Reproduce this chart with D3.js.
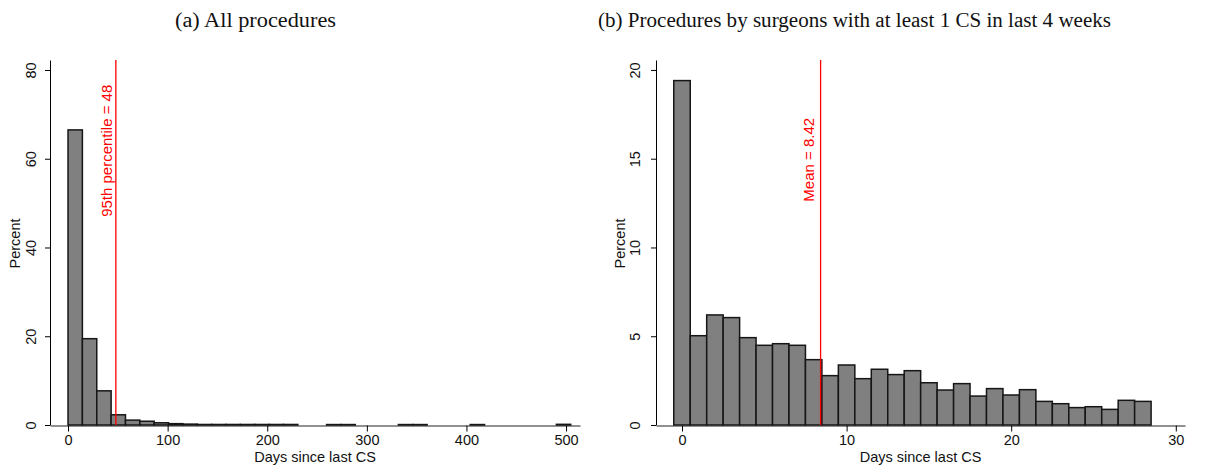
<!DOCTYPE html>
<html>
<head>
<meta charset="utf-8">
<script src="https://cdn.jsdelivr.net/npm/d3@7"></script>
<style>
  body { margin: 0; background: #fff; }
  svg { display: block; }
  .tick text { font-family: "Liberation Sans", Arial, sans-serif; font-size: 14.5px; fill: #111; }
  .axis-label { font-family: "Liberation Sans", Arial, sans-serif; font-size: 14.5px; fill: #111; }
  .title { font-family: "Liberation Serif", "DejaVu Serif", serif; font-size: 20px; fill: #111; }
  .ref-label { font-family: "Liberation Sans", Arial, sans-serif; font-size: 15px; fill: #ff0000; }
</style>
</head>
<body>
<svg id="chart"></svg>
<script>
// panel (a): histogram of days since last CS, all procedures (bin width ~14.42 days)
const leftBinWidth = 14.42;
const leftPercent = [
  66.5, 19.45, 7.7, 2.3, 1.1, 0.85, 0.5, 0.3, 0.2, 0.12,
  0.12, 0.12, 0.12, 0.12, 0.12, 0.12, 0, 0, 0.1, 0.1,
  0, 0, 0, 0.1, 0.1, 0, 0, 0, 0.1, 0,
  0, 0, 0, 0, 0.15
];
const leftXTicks = [0, 100, 200, 300, 400, 500];
const leftYTicks = [0, 20, 40, 60, 80];
const leftRefValue = 48;
const leftRefText = '95th percentile = 48';

// panel (b): surgeons with at least 1 CS in last 4 weeks, 1-day bins
const rightDays = d3.range(0, 29);
const rightPercent = [
  19.4, 5.03, 6.2, 6.05, 4.92, 4.49, 4.58, 4.49, 3.68, 2.78,
  3.38, 2.61, 3.14, 2.84, 3.06, 2.38, 1.97, 2.33, 1.63, 2.05,
  1.69, 1.99, 1.33, 1.2, 0.98, 1.03, 0.88, 1.39, 1.33
];
const rightXTicks = [0, 10, 20, 30];
const rightYTicks = [0, 5, 10, 15, 20];
const rightRefValue = 8.42;
const rightRefText = 'Mean = 8.42';

const width = 1212, height = 471;
const svg = d3.select('#chart').attr('width', width).attr('height', height);

// draws one histogram panel
function drawPanel(opts) {
    const x = d3.scaleLinear().domain(opts.xDomain).range(opts.xRange);
    const y = d3.scaleLinear().domain(opts.yDomain).range([425, 60]);
    const g = svg.append('g');

    // bars
    g.selectAll('.bar')
        .data(opts.bars)
        .join('rect')
            .attr('class', 'bar')
            .attr('x', d => x(d.x0))
            .attr('width', d => x(d.x1) - x(d.x0))
            .attr('y', d => y(d.v))
            .attr('height', d => y(0) - y(d.v))
            .attr('fill', '#808080')
            .attr('stroke', '#161616')
            .attr('stroke-width', 1.5);

    // y axis
    const yAxis = g.append('g')
        .attr('transform', `translate(${opts.xRange[0]},0)`)
        .call(d3.axisLeft(y).tickValues(opts.yTicks).tickSize(5).tickSizeOuter(0));
    yAxis.select('.domain').attr('stroke', '#000').attr('stroke-width', 1);
    yAxis.selectAll('.tick line').attr('stroke', '#000');
    yAxis.selectAll('.tick text')
        .attr('x', null).attr('dy', null)
        .attr('transform', `translate(${opts.yLabelOffset},0) rotate(-90)`)
        .attr('text-anchor', 'middle')
        .attr('dy', '0.36em');

    // x axis
    const xAxis = g.append('g')
        .attr('transform', `translate(0,${y(0) + 0.5})`)
        .call(d3.axisBottom(x).tickValues(opts.xTicks).tickSize(6).tickSizeOuter(0).tickPadding(3));
    xAxis.select('.domain').attr('stroke', '#222').attr('stroke-width', 1);
    xAxis.selectAll('.tick line').attr('stroke', '#000');

    // axis titles
    g.append('text')
        .attr('class', 'axis-label')
        .attr('transform', `translate(${opts.xRange[0] + opts.yTitleOffset},${(y(0) + y.range()[1]) / 2 + 1}) rotate(-90)`)
        .attr('text-anchor', 'middle')
        .attr('dy', '0.36em')
        .text('Percent');

    g.append('text')
        .attr('class', 'axis-label')
        .attr('x', (opts.xRange[0] + opts.xRange[1]) / 2)
        .attr('y', 462)
        .attr('text-anchor', 'middle')
        .text('Days since last CS');

    // reference line + label
    g.append('line')
        .attr('x1', x(opts.refValue)).attr('x2', x(opts.refValue))
        .attr('y1', y.range()[1]).attr('y2', y(0))
        .attr('stroke', '#ff0000')
        .attr('stroke-width', 1.3);

    g.append('text')
        .attr('class', 'ref-label')
        .attr('transform', `translate(${x(opts.refValue) - opts.refLabelGap},${y(opts.refLabelY)}) rotate(-90)`)
        .attr('text-anchor', 'start')
        .text(opts.refText);

    // panel title
    svg.append('text')
        .attr('class', 'title')
        .attr('x', opts.titleX)
        .attr('y', 27)
        .attr('textLength', opts.titleLength)
        .attr('lengthAdjust', 'spacingAndGlyphs')
        .text(opts.title);
}

drawPanel({
    bars: leftPercent.map((v, i) => ({ x0: i * leftBinWidth, x1: (i + 1) * leftBinWidth, v })),
    xDomain: [-18.1, 514], xRange: [50, 580],
    yDomain: [0, 82.25],
    xTicks: leftXTicks, yTicks: leftYTicks,
    yLabelOffset: -19, yTitleOffset: -35,
    refValue: leftRefValue, refText: leftRefText, refLabelY: 46.9, refLabelGap: 3.5,
    title: '(a)  All procedures', titleX: 175, titleLength: 161
});

drawPanel({
    bars: rightDays.map((d, i) => ({ x0: d - 0.5, x1: d + 0.5, v: rightPercent[i] })),
    xDomain: [-1.58, 30.56], xRange: [656, 1185],
    yDomain: [0, 20.56],
    xTicks: rightXTicks, yTicks: rightYTicks,
    yLabelOffset: -21, yTitleOffset: -36,
    refValue: rightRefValue, refText: rightRefText, refLabelY: 12.58, refLabelGap: 6.5,
    title: '(b)  Procedures by surgeons with at least 1 CS in last 4 weeks', titleX: 598, titleLength: 513
});
</script>
</body>
</html>
